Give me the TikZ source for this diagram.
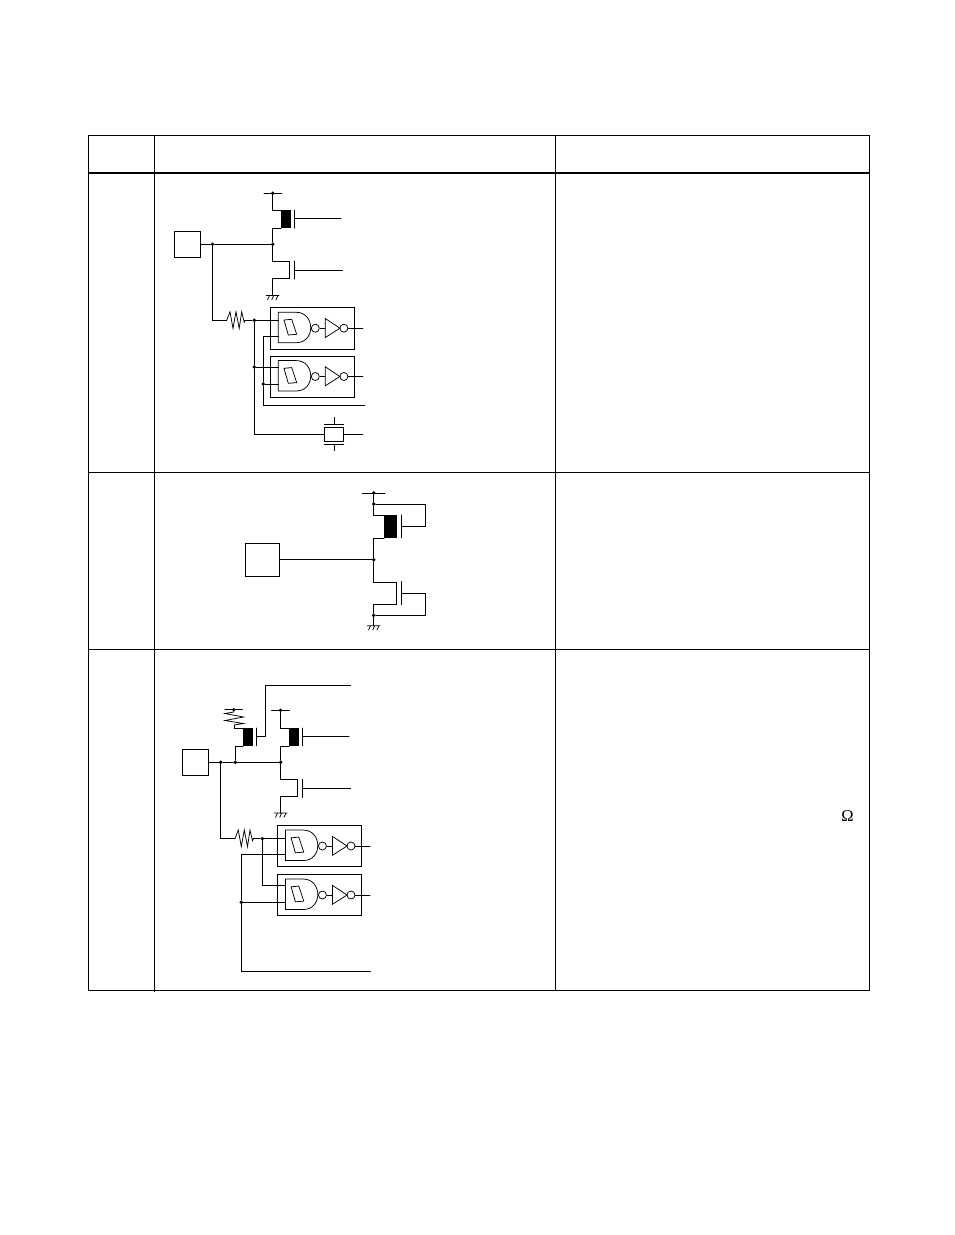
\documentclass[tikz,border=0pt]{standalone}
\usepackage{fontspec}
\setmainfont{Liberation Serif}
\tikzset{
  x=1pt,y=-1pt,
  tablerule/.style={line width=0.95pt,black},
  headrule/.style={line width=2pt,black},
  wire/.style={line width=1pt,black,line cap=round,line join=miter},
  thinline/.style={line width=0.75pt,black},
  padbox/.style={draw,line width=1pt,inner sep=0pt,minimum width=26.4pt,minimum height=26pt},
  jdot/.style={circle,fill=black,inner sep=0pt,minimum size=3.8pt},
  cellbox/.style={draw,line width=1pt,inner sep=0pt,minimum width=84pt,minimum height=41.3pt,anchor=north west},
  bubble/.style={circle,draw,thinline,inner sep=0pt,minimum size=8pt},
  channel/.style={fill=black,inner sep=0pt,anchor=north west},
}
\newcommand{\gatecell}[3]{%
  \begin{scope}[shift={(#2,#3)}]
    \node[cellbox] (#1) at (0,0) {};
    \draw[thinline] (8,5) -- (26,5) .. controls (35,5) and (40.4,12) .. (40.4,20.5)
      .. controls (40.4,28.5) and (35,35.4) .. (26,35.4) -- (8,35.4) -- cycle;
    \draw[thinline] (13.7,12.7) -- (21.4,12) -- (26.4,27) -- (18,27.7) -- cycle;
    \node[bubble] (#1-x) at (45,20.9) {};
    \node[bubble] (#1-y) at (73.6,20.9) {};
    \coordinate (#1-t) at (55,20.9);
    \coordinate (#1-in) at (8,20.9);
    \coordinate (#1-out) at (92.6,20.9);
    \draw[thinline] (55,11.2) -- (55,30.2) -- (69.6,20.9) -- cycle;
    \draw[thinline] (#1-x) -- (#1-t);
    \draw[wire] (#1-y) -- (#1-out);
  \end{scope}}
\newcommand{\gndsym}[2]{%
  \begin{scope}[shift={(#1,#2)}]
    \draw[thinline] (-6.7,0) -- (6.7,0)
      (-3.2,0) -- (-5.2,4.5) (1,0) -- (-1,4.5) (5.2,0) -- (3.2,4.5);
  \end{scope}}
\newcommand{\hres}[3]{%
  \coordinate (#1-a) at (#2,#3);
  \coordinate (#1-b) at ({#2+18.3},#3);
  \begin{scope}[shift={(#2,#3)}]
    \draw[thinline] (0,0) -- (3.3,-8.5) -- (6.3,8) -- (9.3,-8.5) -- (12.5,8) -- (15,-8.5) -- (17.5,2) -- (18.3,0);
  \end{scope}}
\begin{document}
\begin{tikzpicture}
\useasboundingbox (0,0) rectangle (954,1235);
% ---------- table
\draw[tablerule] (88.5,135.5) rectangle (869.5,990.5);
\draw[tablerule] (154.5,135.5) -- (154.5,991.5) (555.5,135.5) -- (555.5,990.5);
\draw[headrule] (88,173) -- (870,173);
\draw[tablerule] (88.5,472) -- (869.5,472) (88.5,649) -- (869.5,649);
\node at (847.5,815.7) {\fontsize{16.5}{16.5}\selectfont Ω};

% ---------- row 1
\node[padbox] (p1) at (187.5,244.3) {};
\node[jdot] (a1) at (212.5,244.3) {};
\node[jdot] (a2) at (272.7,244.3) {};
\node[jdot] (a3) at (272.7,193.3) {};
\coordinate (a3l) at (264,193.3);
\coordinate (a3r) at (281.7,193.3);
\node[channel,minimum width=10pt,minimum height=18pt] (a4) at (281,210) {};
\coordinate (a5) at (294.3,210);
\coordinate (a6) at (294.3,228);
\coordinate (a7) at (294.3,218.3);
\coordinate (a8) at (341,218.3);
\coordinate (a9) at (289.3,261.3);
\coordinate (a10) at (289.3,278.7);
\coordinate (a11) at (294.3,261);
\coordinate (a12) at (294.3,279);
\coordinate (a13) at (294.3,270.3);
\coordinate (a14) at (342.7,270.3);
\coordinate (a15) at (272.7,295.5);
\draw[wire] (p1.east) -- (a1) -- (a2);
\draw[wire] (a3l) -- (a3r);
\draw[wire] (a3) |- (a4.north west);
\draw[wire] (a2) |- (a4.south west);
\draw[wire] (a5) -- (a6);
\draw[wire] (a7) -- (a8);
\draw[wire] (a2) |- (a9) -- (a10) -| (a15);
\draw[wire] (a11) -- (a12);
\draw[wire] (a13) -- (a14);
\gndsym{272.7}{295.5}
\gatecell{c1}{270.3}{307.3}
\gatecell{c2}{270.3}{355.6}
\hres{r1}{226.7}{320.3}
\node[jdot] (b1) at (254.3,320.3) {};
\node[jdot] (b2) at (254.3,367) {};
\node[jdot] (b3) at (263.3,384) {};
\coordinate (b4) at (263.3,336);
\coordinate (b5) at (364.7,405.3);
\coordinate (b6) at (254.3,434.3);
\draw[wire] (a1) |- (r1-a);
\draw[wire] (r1-b) -- (b1) -- (b1 -| c1-in);
\draw[wire] (b1) -- (b2) -- (b6);
\draw[wire] (b2) -- (b2 -| c2-in);
\draw[wire] (b4 -| c1-in) -- (b4) -- (b3) |- (b5);
\draw[wire] (b3) -- (b3 -| c2-in);
% crystal
\node[draw,line width=1pt,inner sep=0pt,minimum width=19.4pt,minimum height=14.7pt] (x1) at (334,434.6) {};
\coordinate (x2) at (362.7,434.3);
\coordinate (x3l) at (324.3,424.3);
\coordinate (x3r) at (343.7,424.3);
\coordinate (x4l) at (324.3,444);
\coordinate (x4r) at (343.7,444);
\coordinate (x5) at (334.3,424.3);
\coordinate (x6) at (334.3,417.3);
\coordinate (x7) at (334.3,444);
\coordinate (x8) at (334.3,450.7);
\draw[wire] (b6) -- (x1.west |- b6);
\draw[wire] (x1.east |- x2) -- (x2);
\draw[wire] (x3l) -- (x3r) (x4l) -- (x4r) (x5) -- (x6) (x7) -- (x8);

% ---------- row 2
\node[padbox,minimum width=34pt,minimum height=33pt] (p2) at (262.3,559.8) {};
\node[jdot] (d1) at (373.7,559.7) {};
\node[jdot] (d2) at (373.7,493) {};
\node[jdot] (d3) at (373.7,504) {};
\coordinate (d2l) at (362.3,493);
\coordinate (d2r) at (385,493);
\node[channel,minimum width=12.7pt,minimum height=22.7pt] (d4) at (384,515) {};
\coordinate (d5) at (401.3,515);
\coordinate (d6) at (401.3,537.7);
\coordinate (d7) at (401.3,526.3);
\coordinate (d8) at (425.7,504);
\coordinate (d9) at (396.7,582.3);
\coordinate (d10) at (396.7,604.3);
\coordinate (d11) at (401.3,581.7);
\coordinate (d12) at (401.3,604.7);
\coordinate (d13) at (401.3,593.3);
\node[jdot] (d14) at (373.7,615.3) {};
\coordinate (d15) at (425.7,615.3);
\coordinate (d16) at (373.7,625.7);
\draw[wire] (p2.east |- d1) -- (d1);
\draw[wire] (d2l) -- (d2r);
\draw[wire] (d2) -- (d3) |- (d4.north west);
\draw[wire] (d1) |- (d4.south west);
\draw[wire] (d5) -- (d6);
\draw[wire] (d3) -- (d8) |- (d7);
\draw[wire] (d1) |- (d9) -- (d10) -| (d14) -- (d16);
\draw[wire] (d11) -- (d12);
\draw[wire] (d14) -- (d15) |- (d13);
\gndsym{373.7}{625.7}

% ---------- row 3
\node[padbox] (p3) at (195.5,762.3) {};
\node[jdot] (e1) at (220.7,762.3) {};
\node[jdot] (e2) at (235.3,762.3) {};
\node[jdot] (e3) at (280.7,762.3) {};
\node[channel,minimum width=10pt,minimum height=17.7pt] (e4) at (243,728) {};
\node[channel,minimum width=9.3pt,minimum height=17.7pt] (e5) at (289,728) {};
\node[jdot] (e6) at (233.7,709.7) {};
\coordinate (e6l) at (225,709.7);
\coordinate (e6r) at (242.3,709.7);
\node[jdot] (e7) at (280.5,710.3) {};
\coordinate (e7l) at (271.7,710.3);
\coordinate (e7r) at (289.3,710.3);
\coordinate (e8) at (256.7,728);
\coordinate (e9) at (256.7,745.7);
\coordinate (e10) at (256.7,736.3);
\coordinate (e11) at (265.7,685.3);
\coordinate (e12) at (350.7,685.3);
\coordinate (e13) at (302.7,728);
\coordinate (e14) at (302.7,745.7);
\coordinate (e15) at (302.7,736.3);
\coordinate (e16) at (349,736.3);
\coordinate (e17) at (297.3,779.3);
\coordinate (e18) at (297.3,796.7);
\coordinate (e19) at (302.7,779.3);
\coordinate (e20) at (302.7,797.3);
\coordinate (e21) at (302.7,788.3);
\coordinate (e22) at (350.7,788.3);
\coordinate (e23) at (280.7,813);
\coordinate (e24) at (234.2,725);
\draw[wire] (p3.east) -- (e1) -- (e2) -- (e3);
\draw[wire] (e2) |- (e4.south west);
\draw[wire] (e6l) -- (e6r) (e7l) -- (e7r);
\draw[thinline] (e6.center) -- (233.7,712) -- (225,713.5) -- (243.5,717) -- (225,720.5) -- (243.5,723.5) -- (e24);
\draw[wire] (e24) |- (e4.north west);
\draw[wire] (e8) -- (e9);
\draw[wire] (e10) -| (e11) -- (e12);
\draw[wire] (e7) |- (e5.north west);
\draw[wire] (e3) |- (e5.south west);
\draw[wire] (e13) -- (e14);
\draw[wire] (e15) -- (e16);
\draw[wire] (e3) |- (e17) -- (e18) -| (e23);
\draw[wire] (e19) -- (e20);
\draw[wire] (e21) -- (e22);
\gndsym{280.7}{813}
\gatecell{c3}{277.4}{825.1}
\gatecell{c4}{277.4}{874.1}
\hres{r2}{235}{838.6}
\node[jdot] (f1) at (262.3,838.6) {};
\coordinate (f2) at (262.3,885.3);
\node[jdot] (f3) at (241.3,902.3) {};
\coordinate (f4) at (241.3,854.3);
\coordinate (f5) at (370.3,971.3);
\draw[wire] (e1) |- (r2-a);
\draw[wire] (r2-b) -- (f1) -- (f1 -| c3-in);
\draw[wire] (f1) -- (f2) -- (f2 -| c4-in);
\draw[wire] (f4 -| c3-in) -- (f4) -- (f3) |- (f5);
\draw[wire] (f3) -- (f3 -| c4-in);
\end{tikzpicture}
\end{document}
